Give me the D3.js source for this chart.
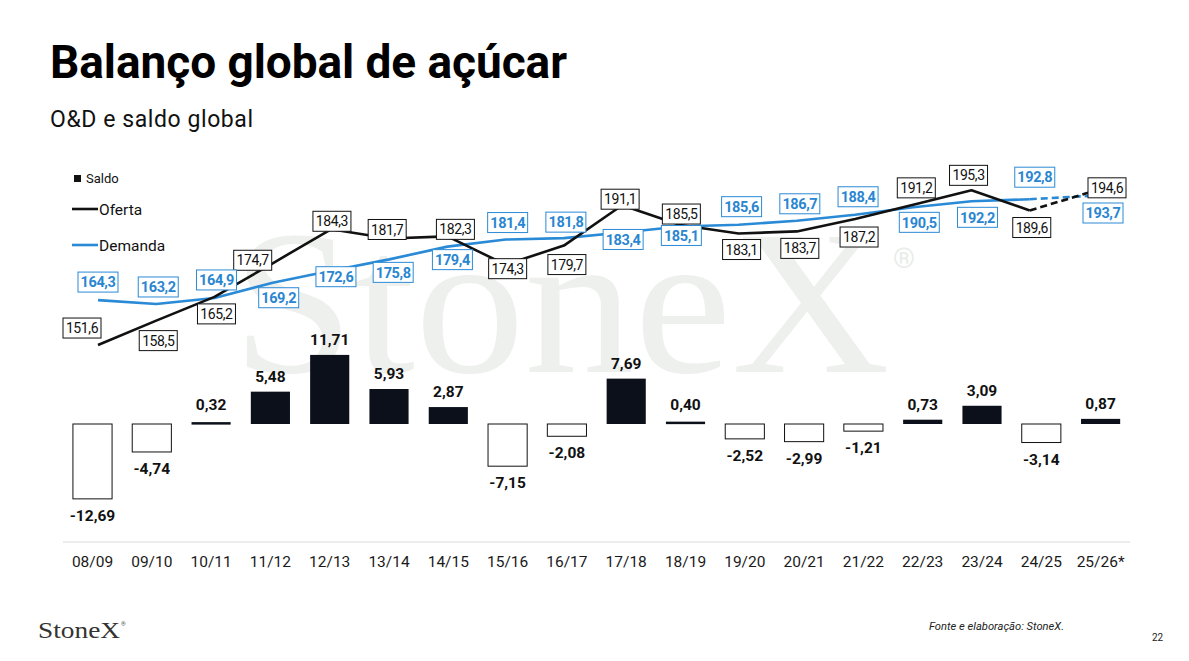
<!DOCTYPE html>
<html lang="pt">
<head>
  <meta charset="UTF-8">
  <title>Balanço global de açúcar</title>
  <script src="https://d3js.org/d3.v7.min.js"></script>
  <style>
    body { margin: 0; background: #fff; }
    svg { display: block; font-family: "Roboto", "Liberation Sans", sans-serif; }
  </style>
</head>
<body>
  <svg id="chart" width="1189" height="661"></svg>

  <script>
    // Data
    const seasons = ["08/09", "09/10", "10/11", "11/12", "12/13", "13/14", "14/15", "15/16", "16/17",
                     "17/18", "18/19", "19/20", "20/21", "21/22", "22/23", "23/24", "24/25", "25/26*"];
    const saldo = [-12.69, -4.74, 0.32, 5.48, 11.71, 5.93, 2.87, -7.15, -2.08,
                   7.69, 0.40, -2.52, -2.99, -1.21, 0.73, 3.09, -3.14, 0.87];
    const oferta = [151.6, 158.5, 165.2, 174.7, 184.3, 181.7, 182.3, 174.3, 179.7,
                    191.1, 185.5, 183.1, 183.7, 187.2, 191.2, 195.3, 189.6, 194.6];
    const demanda = [164.3, 163.2, 164.9, 169.2, 172.6, 175.8, 179.4, 181.4, 181.8,
                     183.4, 185.1, 185.6, 186.7, 188.4, 190.5, 192.2, 192.8, 193.7];

    // label box offsets from each point (layout only)
    const ofertaOff = [[-16, -17], [2, 20], [2, 17], [-20, -3], [1, -8], [-2, -9], [8, -7], [2, 4], [3, 19],
                       [-2, -6], [1, -11], [3, 16], [3, 17], [4, 18], [3, -17], [-3, -15], [2, 17], [19, -5]];
    const demandaOff = [[0, -18], [2, -17], [2, -18], [6, 15], [5, 6], [4, 13], [5, 13], [2, -17], [2, -16],
                        [1, 7], [1, 9], [3, -18], [3, -17], [3, -18], [6, 15], [6, 16], [5, -22], [15, 17]];

    const BLUE = "#2b8ad6";
    const BLUE_TXT = "#2a86d0";
    const DARK = "#0b101b";

    const br = d3.formatLocale({ decimal: ",", thousands: ".", grouping: [3], currency: ["R$", ""], minus: "-" });
    const f2 = br.format(".2f"), f1 = br.format(".1f");

    const svg = d3.select("#chart");

    // watermark
    svg.append("text")
      .attr("x", 232).attr("y", 372)
      .attr("font-family", "Liberation Serif, DejaVu Serif, serif")
      .attr("font-size", 205)
      .attr("textLength", 658).attr("lengthAdjust", "spacingAndGlyphs")
      .attr("fill", "#eef0ed")
      .text("StoneX");
    svg.append("text")
      .attr("x", 893).attr("y", 268)
      .attr("font-size", 28)
      .attr("fill", "#e9ece9")
      .text("®");

    // title
    svg.append("text")
      .attr("x", 50).attr("y", 78)
      .attr("font-size", 46).attr("font-weight", 700)
      .attr("textLength", 517).attr("lengthAdjust", "spacing")
      .attr("fill", "#000")
      .text("Balanço global de açúcar");
    svg.append("text")
      .attr("x", 50).attr("y", 127)
      .attr("font-size", 23)
      .attr("textLength", 203).attr("lengthAdjust", "spacing")
      .attr("fill", "#111")
      .text("O&D e saldo global");

    // scales
    const x = d3.scaleBand().domain(seasons).range([62.85, 1130.25]).paddingInner(0.34).paddingOuter(0.17);
    const xl = d3.scalePoint().domain(seasons).range([98, 1088]);
    const yBar = d3.scaleLinear().domain([-15, 15]).range([512.5, 335.5]);
    const yLine = d3.scaleLinear().domain([140, 200]).range([386.1, 173.7]);

    // baseline + category axis
    svg.append("line")
      .attr("x1", x.range()[0]).attr("x2", x.range()[1])
      .attr("y1", 542).attr("y2", 542)
      .attr("stroke", "#dadada").attr("stroke-width", 1);

    const xAxis = svg.append("g")
      .attr("transform", "translate(0,542)")
      .call(d3.axisBottom(x).tickSize(0).tickPadding(14));
    xAxis.select(".domain").remove();
    xAxis.selectAll("text")
      .attr("font-family", "Roboto, sans-serif")
      .attr("font-size", 15.5)
      .attr("fill", "#1a1a1a");

    // bars
    const bars = svg.append("g");
    bars.selectAll("rect")
      .data(saldo)
      .join("rect")
      .attr("x", (d, i) => x(seasons[i]))
      .attr("width", x.bandwidth())
      .attr("y", d => yBar(Math.max(0, d)))
      .attr("height", d => Math.max(2.5, Math.abs(yBar(d) - yBar(0))))
      .attr("fill", d => d >= 0 ? DARK : "#fff")
      .attr("stroke", d => d >= 0 ? "none" : "#111")
      .attr("stroke-width", 1);

    bars.selectAll("text")
      .data(saldo)
      .join("text")
      .attr("x", (d, i) => x(seasons[i]) + x.bandwidth() / 2)
      .attr("y", d => d >= 0 ? yBar(d) - 10 - (d < 0.5 ? 2 : 0) : yBar(d) + 22)
      .attr("text-anchor", "middle")
      .attr("font-size", 15.5).attr("font-weight", 700)
      .attr("fill", "#111")
      .text(d => f2(d));

    // lines: solid up to 24/25, dashed into the 25/26 estimate
    function drawSeries(vals, color) {
      const n = vals.length;
      const solid = vals.map((v, i) => i <= n - 2 ? v : null);
      svg.append("path")
        .attr("d", d3.line().defined(d => d !== null).x((d, i) => xl(seasons[i])).y(d => yLine(d))(solid))
        .attr("fill", "none").attr("stroke", color).attr("stroke-width", 2.6)
        .attr("stroke-linejoin", "round");
      svg.append("path")
        .attr("d", d3.line().x(d => xl(seasons[d])).y(d => yLine(vals[d]))([n - 2, n - 1]))
        .attr("fill", "none").attr("stroke", color).attr("stroke-width", 2.6)
        .attr("stroke-dasharray", "7,4");
    }
    drawSeries(demanda, BLUE);
    drawSeries(oferta, "#111");

    function drawLabels(vals, offs, opts) {
      const g = svg.append("g");
      const lab = g.selectAll("g")
        .data(vals)
        .join("g")
        .attr("transform", (d, i) => `translate(${xl(seasons[i]) + offs[i][0]},${yLine(d) + offs[i][1]})`);
      lab.append("rect")
        .attr("x", -opts.w / 2).attr("y", -10)
        .attr("width", opts.w).attr("height", 20)
        .attr("fill", "#fff").attr("stroke", opts.stroke).attr("stroke-width", 1);
      lab.append("text")
        .attr("text-anchor", "middle").attr("dy", "0.36em")
        .attr("font-size", opts.size).attr("font-weight", opts.weight)
        .attr("letter-spacing", opts.ls)
        .attr("fill", opts.fill)
        .text(d => f1(d));
    }
    drawLabels(oferta, ofertaOff, { w: 38, stroke: "#111", size: 14, weight: 400, fill: "#111", ls: -0.4 });
    drawLabels(demanda, demandaOff, { w: 40, stroke: BLUE, size: 14.5, weight: 700, fill: BLUE_TXT, ls: -0.4 });

    // legend
    const leg = svg.append("g");
    leg.append("rect").attr("x", 74).attr("y", 175).attr("width", 7).attr("height", 7).attr("fill", "#111");
    leg.append("text").attr("x", 86).attr("y", 183).attr("font-size", 13).attr("fill", "#111").text("Saldo");
    leg.append("line").attr("x1", 72).attr("x2", 98).attr("y1", 209).attr("y2", 209)
      .attr("stroke", "#111").attr("stroke-width", 2.6);
    leg.append("text").attr("x", 99).attr("y", 214.5).attr("font-size", 15.5).attr("fill", "#111").text("Oferta");
    leg.append("line").attr("x1", 72).attr("x2", 98).attr("y1", 245).attr("y2", 245)
      .attr("stroke", BLUE).attr("stroke-width", 2.6);
    leg.append("text").attr("x", 99).attr("y", 250.5).attr("font-size", 15.5).attr("fill", "#111").text("Demanda");

    // footer
    svg.append("text")
      .attr("x", 38).attr("y", 638)
      .attr("font-family", "Liberation Serif, DejaVu Serif, serif")
      .attr("font-size", 24)
      .attr("textLength", 82).attr("lengthAdjust", "spacingAndGlyphs")
      .attr("fill", "#333")
      .text("StoneX");
    svg.append("text")
      .attr("x", 121).attr("y", 626)
      .attr("font-size", 6).attr("fill", "#555")
      .text("®");
    svg.append("text")
      .attr("x", 929).attr("y", 630)
      .attr("font-size", 10).attr("font-style", "italic")
      .attr("textLength", 135).attr("lengthAdjust", "spacingAndGlyphs")
      .attr("fill", "#222")
      .text("Fonte e elaboração: StoneX.");
    svg.append("text")
      .attr("x", 1152).attr("y", 641)
      .attr("font-size", 10)
      .attr("fill", "#222")
      .text("22");
  </script>
</body>
</html>
